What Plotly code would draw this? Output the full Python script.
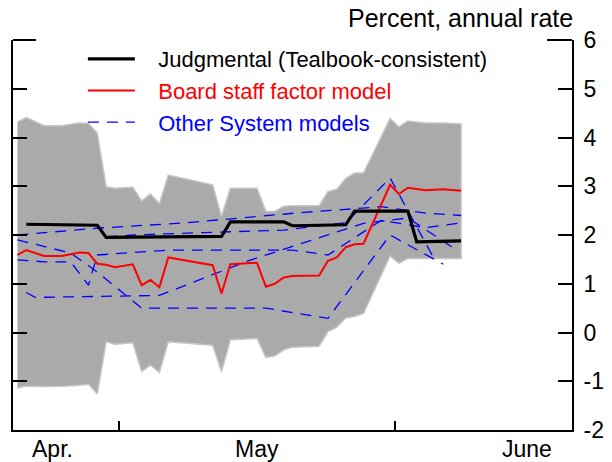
import plotly.graph_objects as go

# ---- data ----
factor_dates = ["2012-04-19", "2012-04-20", "2012-04-22", "2012-04-24", "2012-04-26", "2012-04-27",
                "2012-04-28", "2012-04-29", "2012-04-30", "2012-05-02", "2012-05-03", "2012-05-04",
                "2012-05-05", "2012-05-06", "2012-05-11", "2012-05-12", "2012-05-13", "2012-05-16",
                "2012-05-17", "2012-05-18", "2012-05-19", "2012-05-20", "2012-05-23", "2012-05-24",
                "2012-05-25", "2012-05-26", "2012-05-27", "2012-05-28", "2012-05-31", "2012-06-01",
                "2012-06-02", "2012-06-04", "2012-06-06", "2012-06-08"]
factor_vals = [1.59, 1.69, 1.57, 1.57, 1.64, 1.63, 1.41, 1.39, 1.34, 1.40, 0.97, 1.08,
               0.93, 1.54, 1.38, 0.80, 1.40, 1.43, 0.94, 1.00, 1.13, 1.16, 1.17, 1.47,
               1.54, 1.75, 1.81, 1.82, 3.03, 2.84, 2.97, 2.92, 2.94, 2.91]
band_upper = [4.32, 4.41, 4.24, 4.24, 4.30, 4.29, 4.09, 2.99, 2.96, 2.98, 2.70, 2.84,
              2.64, 3.23, 3.03, 2.38, 2.96, 2.96, 2.48, 2.48, 2.59, 2.60, 2.60, 2.89,
              2.94, 3.16, 3.27, 3.27, 4.39, 4.22, 4.34, 4.30, 4.30, 4.28]
band_lower = [-1.14, -1.10, -1.11, -1.10, -1.08, -1.06, -1.26, -0.19, -0.24, -0.21, -0.80, -0.67,
              -0.82, -0.19, -0.26, -0.80, -0.15, -0.12, -0.51, -0.48, -0.36, -0.30, -0.28, 0.02,
              0.11, 0.30, 0.33, 0.39, 1.57, 1.42, 1.52, 1.52, 1.52, 1.52]

judg_dates = ["2012-04-20", "2012-04-28", "2012-04-29", "2012-05-12", "2012-05-13", "2012-05-19",
              "2012-05-20", "2012-05-26", "2012-05-27", "2012-06-02", "2012-06-03", "2012-06-08"]
judg_vals = [2.22, 2.20, 1.95, 1.97, 2.27, 2.27, 2.19, 2.21, 2.49, 2.49, 1.86, 1.88]

other1_dates = ["2012-04-19", "2012-04-28", "2012-05-08", "2012-05-21", "2012-05-30", "2012-06-04", "2012-06-08"]
other1_vals = [2.00, 2.14, 2.25, 2.46, 2.58, 2.45, 2.40]
other2_dates = ["2012-04-19", "2012-04-25", "2012-04-28", "2012-05-03", "2012-05-17", "2012-05-24",
                "2012-05-31", "2012-06-06"]
other2_vals = [1.90, 1.63, 1.24, 0.50, 0.50, 0.29, 2.00, 1.40]
other3_dates = ["2012-04-19", "2012-04-22", "2012-04-25", "2012-04-27", "2012-04-28", "2012-05-06",
                "2012-05-20", "2012-05-24", "2012-05-30", "2012-06-04", "2012-06-08"]
other3_vals = [1.49, 1.45, 1.45, 0.97, 1.59, 1.69, 1.69, 1.59, 2.30, 2.15, 2.25]
other4_dates = ["2012-04-20", "2012-04-21", "2012-05-05", "2012-05-09", "2012-05-15", "2012-05-28",
                "2012-06-02", "2012-06-07"]
other4_vals = [0.82, 0.72, 0.76, 1.04, 1.47, 2.24, 2.35, 1.75]
other5_dates = ["2012-04-29", "2012-05-02", "2012-05-10", "2012-05-19", "2012-05-26", "2012-05-31", "2012-06-05"]
other5_vals = [1.96, 2.00, 2.05, 2.10, 2.25, 3.17, 1.50]

other_models = [(other1_dates, other1_vals), (other2_dates, other2_vals), (other3_dates, other3_vals),
                (other4_dates, other4_vals), (other5_dates, other5_vals)]

y_tickvals = [-2, -1, 0, 1, 2, 3, 4, 5, 6]
y_ticktext = ["-2", "-1", "0", "1", "2", "3", "4", "5", "6"]

month_labels = ["Apr.", "May", "June"]
month_label_pos = [0.0707, 0.436, 0.9195]

FONT = "Liberation Sans, Arial, sans-serif"
PAD = "\u00a0\u00a0\u00a0"  # gap between legend sample and text

fig = go.Figure()

# confidence band around the factor model
fig.add_trace(go.Scatter(
    x=factor_dates + factor_dates[::-1],
    y=band_upper + band_lower[::-1],
    fill="toself", fillcolor="#aaaaaa",
    line=dict(color="#c6c6c6", width=1.5),
    mode="lines", showlegend=False, hoverinfo="skip",
))

for i, (d, v) in enumerate(other_models):
    fig.add_trace(go.Scatter(
        x=d, y=v, mode="lines",
        line=dict(color="#0000ff", width=1.3, dash="11px,8px"),
        name=PAD + "<span style='color:#0000ff'>Other System models</span>",
        showlegend=(i == 0), legendrank=3,
    ))

fig.add_trace(go.Scatter(
    x=factor_dates, y=factor_vals, mode="lines",
    line=dict(color="#ff0000", width=2),
    name=PAD + "<span style='color:#ff0000'>Board staff factor model</span>", legendrank=2,
))

fig.add_trace(go.Scatter(
    x=judg_dates, y=judg_vals, mode="lines",
    line=dict(color="#000000", width=3.2),
    name=PAD + "Judgmental (Tealbook-consistent)", legendrank=1,
))

for lab, pos in zip(month_labels, month_label_pos):
    fig.add_annotation(text=lab, x=pos, y=-0.049, xref="paper", yref="paper",
                       xanchor="center", yanchor="middle", showarrow=False,
                       font=dict(size=23, color="black", family=FONT))

fig.add_annotation(text="Percent, annual rate", x=1.006, y=1.0, xref="paper", yref="paper",
                   xanchor="right", yanchor="bottom", yshift=6, showarrow=False,
                   font=dict(size=25, color="black", family=FONT))

# short top corner pieces of the frame
for x0, x1 in [(0, 23 / 559), (1 - 25 / 559, 1)]:
    fig.add_shape(type="line", xref="paper", yref="paper", x0=x0, x1=x1, y0=1, y1=1,
                  line=dict(color="black", width=2))

fig.update_layout(
    width=612, height=462,
    margin=dict(l=13, r=40, t=40, b=32, autoexpand=False),
    plot_bgcolor="white", paper_bgcolor="white",
    font=dict(family=FONT, size=23, color="black"),
    showlegend=True,
    legend=dict(x=0.125, y=1.005, xanchor="left", yanchor="top",
                bgcolor="rgba(0,0,0,0)", font=dict(size=22), itemwidth=47,
                tracegroupgap=0),
    xaxis=dict(
        type="date", range=["2012-04-18 12:00", "2012-06-20 12:00"],
        tickvals=["2012-04-30 12:00", "2012-05-31 12:00"], ticktext=["", ""],
        ticks="inside", ticklen=9, tickwidth=2, tickcolor="black", automargin=False,
        showline=True, linecolor="black", linewidth=2, showgrid=False, zeroline=False,
    ),
    yaxis=dict(
        range=[-2, 6], tickvals=y_tickvals, ticktext=y_ticktext,
        side="right", mirror="ticks", automargin=False,
        ticks="inside", ticklen=14, tickwidth=2, tickcolor="black",
        showline=True, linecolor="black", linewidth=2, showgrid=False, zeroline=False,
        tickfont=dict(size=23), ticklabelstandoff=5,
    ),
)

fig.write_html("out.html", config={"displayModeBar": False},
               post_script="document.body.style.margin='0';")
